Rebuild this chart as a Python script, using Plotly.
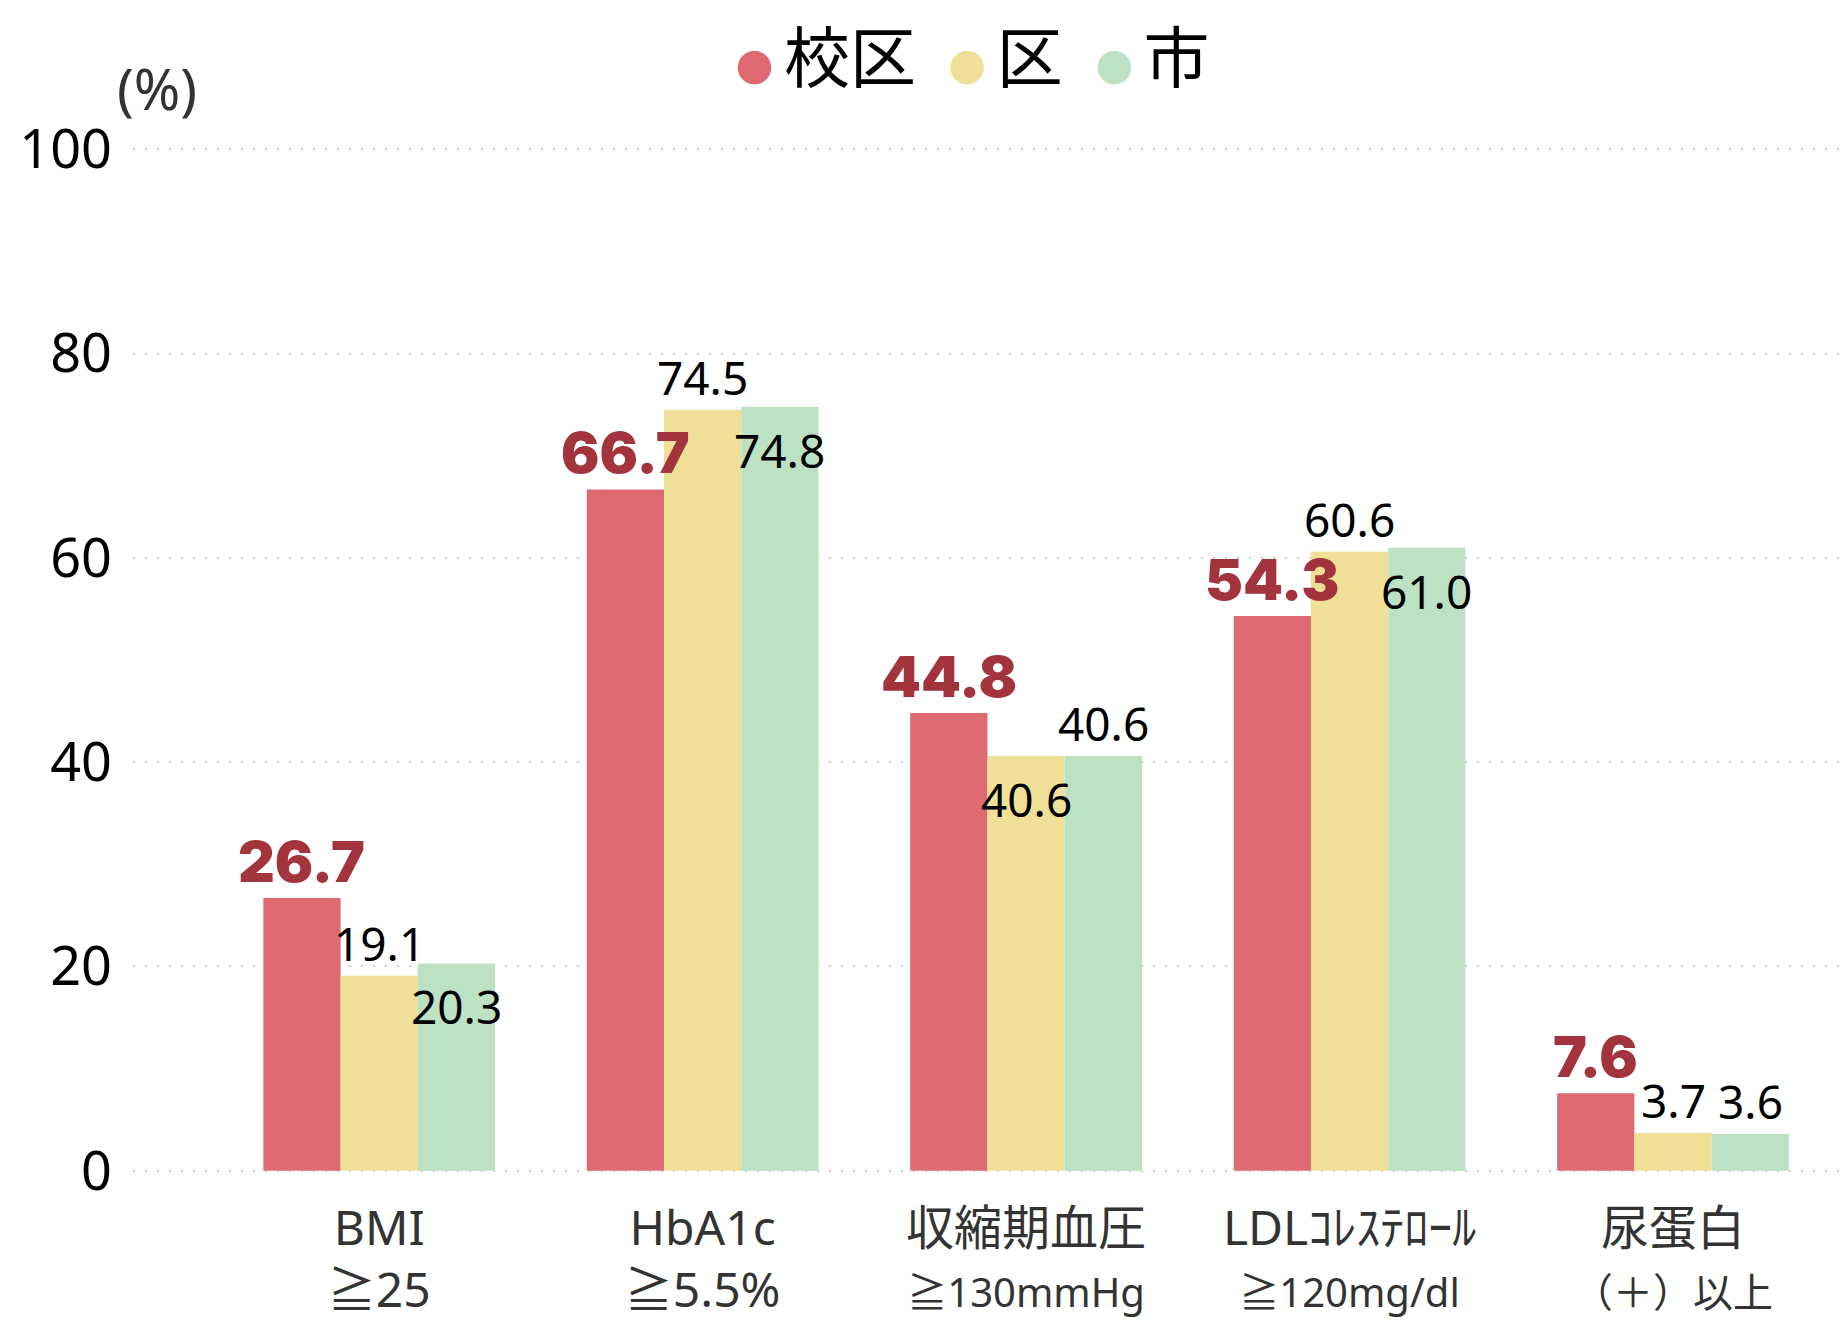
import plotly.graph_objects as go

categories = ["BMI", "HbA1c", "収縮期血圧", "LDLｺﾚｽﾃﾛｰﾙ", "尿蛋白"]
sublabels = ["≧25", "≧5.5%", "≧130mmHg", "≧120mg/dl", "（＋）以上"]
sublabel_small = [False, False, True, True, True]
school = [26.7, 66.7, 44.8, 54.3, 7.6]
ward = [19.1, 74.5, 40.6, 60.6, 3.7]
city = [20.3, 74.8, 40.6, 61.0, 3.6]
series_names = ["校区", "区", "市"]

# label placement: True = inside bar top, False = above bar
school_inside = [False, False, False, False, False]
ward_inside = [False, False, True, False, False]
city_inside = [True, True, False, True, False]

RED = "#DE6971"
YEL = "#F0E097"
GRN = "#BDE1C3"
LABEL_RED = "#A3333D"

FONT = "Noto Sans, Noto Sans CJK JP, sans-serif"

W, H = 1842, 1328
ML, MR, MT, MB = 133, 0, 139.3, 147.3
XR = [-0.7612, 4.5225]
BARGAP = 0.2837

ticktext = []
for c, s, small in zip(categories, sublabels, sublabel_small):
    if small:
        ticktext.append(f"{c}<br><span style='font-size:40px'>{s}</span>")
    else:
        ticktext.append(f"{c}<br>{s}")

fig = go.Figure()
for vals, name, col in zip([school, ward, city], series_names, [RED, YEL, GRN]):
    fig.add_trace(go.Bar(x=categories, y=vals, name=name, marker_color=col,
                         marker_line_width=0, showlegend=False))

# value labels as annotations so they sit above all bars
px_per_cat = (W - ML - MR) / (XR[1] - XR[0])
bar_px = px_per_cat * (1 - BARGAP) / 3
annotations = []
for k, (vals, inside) in enumerate(zip([school, ward, city], [school_inside, ward_inside, city_inside])):
    for c, v, ins in zip(categories, vals, inside):
        if k == 0:
            font = dict(family="Inter, Liberation Sans, sans-serif", size=57, color=LABEL_RED, weight=900)
        else:
            font = dict(family=FONT, size=46, color="#000000")
        annotations.append(dict(
            x=c, y=v, xref="x", yref="y", text=f"{v:.1f}", showarrow=False,
            xshift=(k - 1) * bar_px, xanchor="center",
            yanchor="top" if ins else "bottom",
            yshift=-10 if ins else 0,
            font=font,
        ))

legend_colors = [RED, YEL, GRN]
legend_text = "\u2009\u2009\u2009".join(
    f"<span style='color:{col};font-size:37px'>●</span>\u2009{n}" for col, n in zip(legend_colors, series_names)
)
annotations.append(dict(text=legend_text, xref="paper", yref="paper",
                        x=(973 - ML) / (W - ML - MR), y=1 + (MT - 56) / (H - MT - MB),
                        xanchor="center", yanchor="middle", showarrow=False,
                        font=dict(family=FONT, size=66, color="#000000")))
annotations.append(dict(text="(%)", xref="paper", yref="paper",
                        x=(157 - ML) / (W - ML - MR), y=1 + (MT - 88) / (H - MT - MB),
                        xanchor="center", yanchor="middle", showarrow=False,
                        font=dict(family=FONT, size=56, color="#333333")))

fig.update_layout(
    width=W, height=H,
    margin=dict(l=ML, r=MR, t=MT, b=MB),
    paper_bgcolor="white", plot_bgcolor="white",
    barmode="group", bargap=BARGAP, bargroupgap=0,
    font=dict(family=FONT, color="#000000"),
    xaxis=dict(
        range=XR,
        tickmode="array", tickvals=categories, ticktext=ticktext,
        tickfont=dict(family=FONT, size=48, color="#333333"),
        showgrid=False, zeroline=False, showline=False, ticks="",
        ticklabelstandoff=15,
    ),
    yaxis=dict(
        range=[-1, 101], tickvals=[0, 20, 40, 60, 80, 100],
        tickfont=dict(family=FONT, size=54, color="#000000"),
        showgrid=True, gridcolor="#cfcfcf", gridwidth=2, griddash="2px,10px",
        zeroline=False, showline=False, ticks="", ticklabelstandoff=20,
    ),
    annotations=annotations,
)

fig.write_html("out.html", config={"displayModeBar": False},
               post_script="document.body.style.margin='0';document.body.style.overflow='hidden';")
